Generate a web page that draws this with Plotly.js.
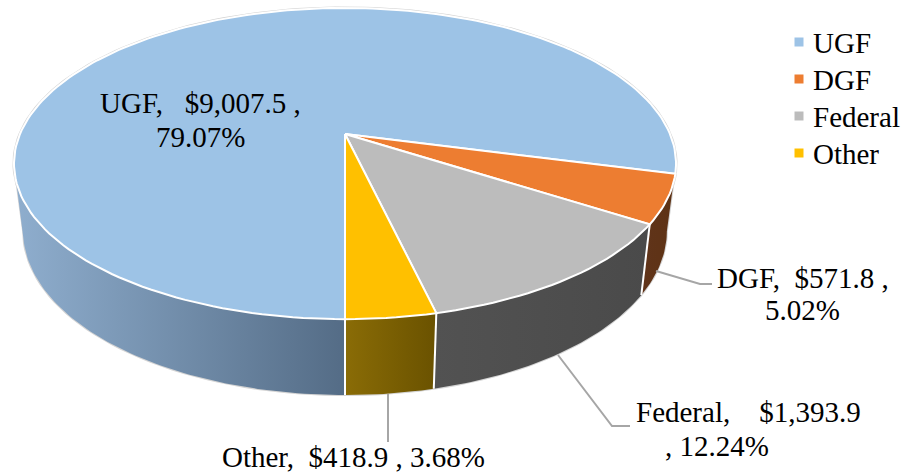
<!DOCTYPE html>
<html><head><meta charset="utf-8">
<script src="https://cdn.plot.ly/plotly-3.0.1.min.js"></script>
<style>html,body{margin:0;padding:0;background:#fff}</style></head>
<body><div id="chart" style="width:904px;height:472px"></div>
<script>
// --- data
const categories = ['UGF', 'DGF', 'Federal', 'Other'];
const amounts = [9007.5, 571.8, 1393.9, 418.9];
const amountText = ['$9,007.5', '$571.8', '$1,393.9', '$418.9'];
const percentText = ['79.07%', '5.02%', '12.24%', '3.68%'];
const faceColors = ['#9DC3E6', '#ED7D31', '#BCBCBC', '#FFC000'];
const wallLeft = ['#8FAECE', '#60341A', '#525252', '#8A6C06'];
const wallRight = ['#546C86', '#5E3214', '#4A4A4A', '#6A5200'];
const FONT = 'Liberation Serif, Times New Roman, serif';

// --- perspective disc: screen position of an angle (clockwise from the front)
const topDisc = {cx:345, cy:134, a:325, b:150, k:0.19};
const botDisc = {cx:345, cy:200, a:316, b:158, k:0.19};
function project(d, deg){
  const r = deg*Math.PI/180, u = -Math.sin(r), v = Math.cos(r), w = 1 - d.k*v;
  return [d.cx + d.a*u/w, d.cy + d.b*v/w];
}
const total = amounts.reduce((s,v)=>s+v,0);
const edges = [0];
amounts.forEach(v=>edges.push(edges[edges.length-1] + v/total*360));
const silhouette = 79;   // angle at which each rim reaches its widest point

function arc(d, from, to, step){
  const n = Math.max(1, Math.ceil(Math.abs(to-from)/step)), pts = [];
  for(let i=0;i<=n;i++) pts.push(project(d, from+(to-from)*i/n));
  return pts;
}
const traces = [];
function poly(pts, fill, line, lw, grad){
  const c = pts.concat([pts[0]]);
  const t = {type:'scatter', mode:'lines', x:c.map(p=>p[0]), y:c.map(p=>p[1]),
    fill:'toself', line:{color:line, width:lw}, showlegend:false, hoverinfo:'skip'};
  if(grad) t.fillgradient = {type:'horizontal', colorscale:[[0,grad[0]],[1,grad[1]]]};
  else t.fillcolor = fill;
  traces.push(t);
}
function path(pts, color, w){
  traces.push({type:'scatter', mode:'lines', x:pts.map(p=>p[0]), y:pts.map(p=>p[1]),
    line:{color:color, width:w}, showlegend:false, hoverinfo:'skip'});
}
function wall(i, from, to){
  const pts = arc(topDisc, from, to, 1).concat(arc(botDisc, to, from, 1));
  poly(pts, null, 'rgba(0,0,0,0)', 0, [wallLeft[i], wallRight[i]]);
}
// outer silhouette hairline
const outline = '#d4d4d4';
path(arc(botDisc, silhouette, -silhouette, 2), outline, 2);
path([project(topDisc,silhouette), project(botDisc,silhouette)], outline, 2);
path([project(topDisc,-silhouette), project(botDisc,-silhouette)], outline, 2);
path(arc(topDisc, 0, 360, 2), outline, 3);
// walls
wall(0, silhouette, edges[0]);
wall(1, 360-silhouette, edges[2]);
wall(2, edges[2], edges[3]);
wall(3, edges[3], edges[4]);
// wall dividers
[edges[0], edges[3], edges[2]].forEach(e=>{
  path([project(topDisc,e), project(botDisc,e)], '#ffffff', 2);
});
// top face slices
const apex = [topDisc.cx, topDisc.cy];
categories.forEach((c,i)=>{
  poly([apex].concat(arc(topDisc, edges[i], edges[i+1], 1.5)), faceColors[i], '#ffffff', 2);
});
// legend entries
categories.forEach((c,i)=>{
  traces.push({type:'scatter', mode:'markers', x:[null], y:[null], name:c,
    marker:{symbol:'square', size:9, color:faceColors[i]}, hoverinfo:'skip'});
});

// --- labels
const labelSize = 29;
const labelLines = [
  [categories[0]+',   '+amountText[0]+' ,', 200, 103],
  [percentText[0], 200, 137],
  [categories[1]+',  '+amountText[1]+' ,', 803, 278],
  [percentText[1], 802, 310],
  [categories[2]+',    '+amountText[2], 748, 412],
  [', '+percentText[2], 717, 446],
  [categories[3]+',  '+amountText[3]+' , '+percentText[3], 353.5, 457]
];
const annotations = labelLines.map(l=>({text:l[0].replace(/ {2,}/g, m=>'\u00a0'.repeat(m.length)), x:l[1], y:l[2], xref:'x', yref:'y',
  showarrow:false, xanchor:'center', yanchor:'middle', font:{family:FONT, size:labelSize, color:'#000'}}));
const leaders = [
  [[656,271],[700,284],[712,284]],
  [[558,355],[612,426],[630,426]],
  [[388,394],[388,442]]
];
const shapes = leaders.map(p=>({type:'path', xref:'x', yref:'y',
  path:'M'+p.map(q=>q.join(',')).join('L'), line:{color:'#a6a6a6', width:2}}));

const layout = {
  width:904, height:472, margin:{l:0,r:0,t:0,b:0,autoexpand:false}, paper_bgcolor:'#fff', plot_bgcolor:'#fff',
  xaxis:{range:[0,904], visible:false, fixedrange:true},
  yaxis:{range:[472,0], visible:false, fixedrange:true},
  hovermode:false, annotations:annotations, shapes:shapes,
  legend:{x:0.8, y:0.95, xanchor:'left', yanchor:'top', bgcolor:'rgba(0,0,0,0)',
    font:{family:FONT, size:labelSize, color:'#000'}, itemwidth:30, tracegroupgap:0}
};
// Legend rows sit closer than the library's row height: place them after drawing.
const legendBox = [773, 24], legendFirstRow = 18, legendRowGap = 37, swatchShift = 6;
Plotly.newPlot('chart', traces, layout, {displayModeBar:false, staticPlot:true}).then(()=>{
  const lg = document.querySelector('.legend');
  if(!lg) return;
  lg.setAttribute('transform', 'translate('+legendBox[0]+','+legendBox[1]+')');
  lg.querySelectorAll('.traces').forEach((t,i)=>{
    t.setAttribute('transform', 'translate(0,'+(legendFirstRow+i*legendRowGap)+')');
    const p = t.querySelector('.legendpoints');
    if(p) p.setAttribute('transform', 'translate('+swatchShift+',0)');
  });
});
</script></body></html>
